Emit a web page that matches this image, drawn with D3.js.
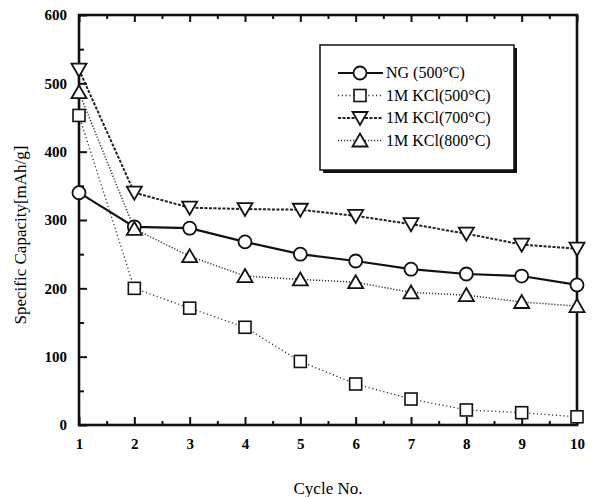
<!DOCTYPE html>
<html>
<head>
<meta charset="utf-8">
<script src="https://cdn.jsdelivr.net/npm/d3@7"></script>
<style>
  html, body { margin: 0; padding: 0; background: #fff; }
  svg { display: block; }
  text { font-family: "Liberation Serif", "DejaVu Serif", serif; fill: #000; }
</style>
</head>
<body>
<svg id="chart" width="596" height="497"></svg>
<script>
// Discharge capacity per cycle for each sample
const cycles = [1, 2, 3, 4, 5, 6, 7, 8, 9, 10];
const ng500 = [340, 290, 288, 268, 250, 240, 228, 221, 218, 205];
const kcl500 = [453, 200, 171, 143, 93, 60, 38, 22, 18, 12];
const kcl700 = [520, 340, 318, 316, 315, 306, 294, 280, 264, 258];
const kcl800 = [487, 287, 247, 218, 213, 209, 194, 190, 180, 174];
const seriesNames = ["NG (500\u00B0C)", "1M KCl(500\u00B0C)", "1M KCl(700\u00B0C)", "1M KCl(800\u00B0C)"];
const yTicks = [0, 100, 200, 300, 400, 500, 600];
const xTicks = [1, 2, 3, 4, 5, 6, 7, 8, 9, 10];

const series = [
  { name: seriesNames[0], values: ng500, symbol: "circle", dash: null, width: 2.2, color: "#111" },
  { name: seriesNames[1], values: kcl500, symbol: "square", dash: "1.2 2.6", width: 1.3, color: "#333" },
  { name: seriesNames[2], values: kcl700, symbol: "tridown", dash: "3 1.5", width: 2.0, color: "#222" },
  { name: seriesNames[3], values: kcl800, symbol: "triup", dash: "1.2 1.8", width: 1.5, color: "#333" }
];

const svg = d3.select("#chart");
const pLeft = 79, pRight = 577, pTop = 15, pBottom = 425;

const x = d3.scaleLinear().domain([1, 10]).range([pLeft, pRight]);
const y = d3.scaleLinear().domain([0, 600]).range([pBottom, pTop]);

// Ticks: inward-facing, major and minor
const xMinor = d3.range(1.5, 10, 1);
const yMinor = d3.range(50, 600, 100);

const axisG = svg.append("g");
const tickStyle = g => g.selectAll("line").attr("stroke", "#111").attr("stroke-width", 2);
const labelStyle = g => g.selectAll("text").attr("font-size", 15).attr("font-weight", "bold")
  .style("font-family", "Liberation Serif, serif").attr("fill", "#000");

// bottom axis
axisG.append("g")
  .attr("transform", `translate(0,${pBottom})`)
  .call(d3.axisBottom(x).tickValues(xTicks).tickSize(-8).tickFormat(d3.format("d")).tickPadding(13))
  .call(g => g.select(".domain").remove())
  .call(tickStyle).call(labelStyle);
axisG.append("g")
  .attr("transform", `translate(0,${pBottom})`)
  .call(d3.axisBottom(x).tickValues(xMinor).tickSize(-4).tickFormat(""))
  .call(g => g.select(".domain").remove())
  .call(tickStyle);

// top axis
axisG.append("g")
  .attr("transform", `translate(0,${pTop})`)
  .call(d3.axisTop(x).tickValues(xTicks).tickSize(-7).tickFormat(""))
  .call(g => g.select(".domain").remove())
  .call(tickStyle);
axisG.append("g")
  .attr("transform", `translate(0,${pTop})`)
  .call(d3.axisTop(x).tickValues(xMinor).tickSize(-4).tickFormat(""))
  .call(g => g.select(".domain").remove())
  .call(tickStyle);

// left axis
axisG.append("g")
  .attr("transform", `translate(${pLeft},0)`)
  .call(d3.axisLeft(y).tickValues(yTicks).tickSize(-8).tickFormat(d3.format("d")).tickPadding(12))
  .call(g => g.select(".domain").remove())
  .call(tickStyle).call(labelStyle);
axisG.append("g")
  .attr("transform", `translate(${pLeft},0)`)
  .call(d3.axisLeft(y).tickValues(yMinor).tickSize(-5).tickFormat(""))
  .call(g => g.select(".domain").remove())
  .call(tickStyle);

// frame
svg.append("rect")
  .attr("x", pLeft).attr("y", pTop)
  .attr("width", pRight - pLeft).attr("height", pBottom - pTop)
  .attr("fill", "none").attr("stroke", "#111").attr("stroke-width", 2.6);

// axis titles
svg.append("text")
  .attr("x", 328).attr("y", 494)
  .attr("text-anchor", "middle").attr("font-size", 17)
  .text("Cycle No.");
svg.append("text")
  .attr("transform", "translate(26,235) rotate(-90)")
  .attr("text-anchor", "middle").attr("font-size", 17)
  .text("Specific Capacity[mAh/g]");

// symbol drawing
function drawSymbol(g, kind, cx, cy) {
  const sw = 1.8;
  if (kind === "circle") {
    g.append("circle").attr("cx", cx).attr("cy", cy).attr("r", 6.5)
      .attr("fill", "#fff").attr("stroke", "#111").attr("stroke-width", sw);
  } else if (kind === "square") {
    g.append("rect").attr("x", cx - 6).attr("y", cy - 6).attr("width", 12).attr("height", 12)
      .attr("fill", "#fff").attr("stroke", "#111").attr("stroke-width", 1.6);
  } else if (kind === "tridown") {
    g.append("path")
      .attr("d", `M${cx - 7.5},${cy - 6}L${cx + 7.5},${cy - 6}L${cx},${cy + 7}Z`)
      .attr("fill", "#fff").attr("stroke", "#111").attr("stroke-width", sw);
  } else if (kind === "triup") {
    g.append("path")
      .attr("d", `M${cx - 7.5},${cy + 6}L${cx + 7.5},${cy + 6}L${cx},${cy - 7}Z`)
      .attr("fill", "#fff").attr("stroke", "#111").attr("stroke-width", sw);
  }
}

const line = d3.line().x((d, i) => x(cycles[i])).y(d => y(d));
const plot = svg.append("g");

// lines first, then markers on top
series.forEach(s => {
  plot.append("path")
    .datum(s.values)
    .attr("d", line)
    .attr("fill", "none")
    .attr("stroke", s.color)
    .attr("stroke-width", s.width)
    .attr("stroke-dasharray", s.dash);
});
series.forEach(s => {
  const g = plot.append("g");
  s.values.forEach((v, i) => drawSymbol(g, s.symbol, x(cycles[i]), y(v)));
});

// legend
const lg = svg.append("g");
const lx = 320, ly = 45, lw = 194, lh = 125;
lg.append("rect").attr("x", lx + 3).attr("y", ly + 3).attr("width", lw).attr("height", lh)
  .attr("fill", "#111");
lg.append("rect").attr("x", lx).attr("y", ly).attr("width", lw).attr("height", lh)
  .attr("fill", "#fff").attr("stroke", "#111").attr("stroke-width", 1.5);
series.forEach((s, i) => {
  const yy = ly + 28 + i * 22.5;
  lg.append("line").attr("x1", 338).attr("x2", 383).attr("y1", yy).attr("y2", yy)
    .attr("stroke", s.color).attr("stroke-width", s.width).attr("stroke-dasharray", s.dash);
  drawSymbol(lg, s.symbol, 360, yy);
  lg.append("text").attr("x", 386).attr("y", yy + 5).attr("font-size", 16).text(s.name);
});
</script>
</body>
</html>
